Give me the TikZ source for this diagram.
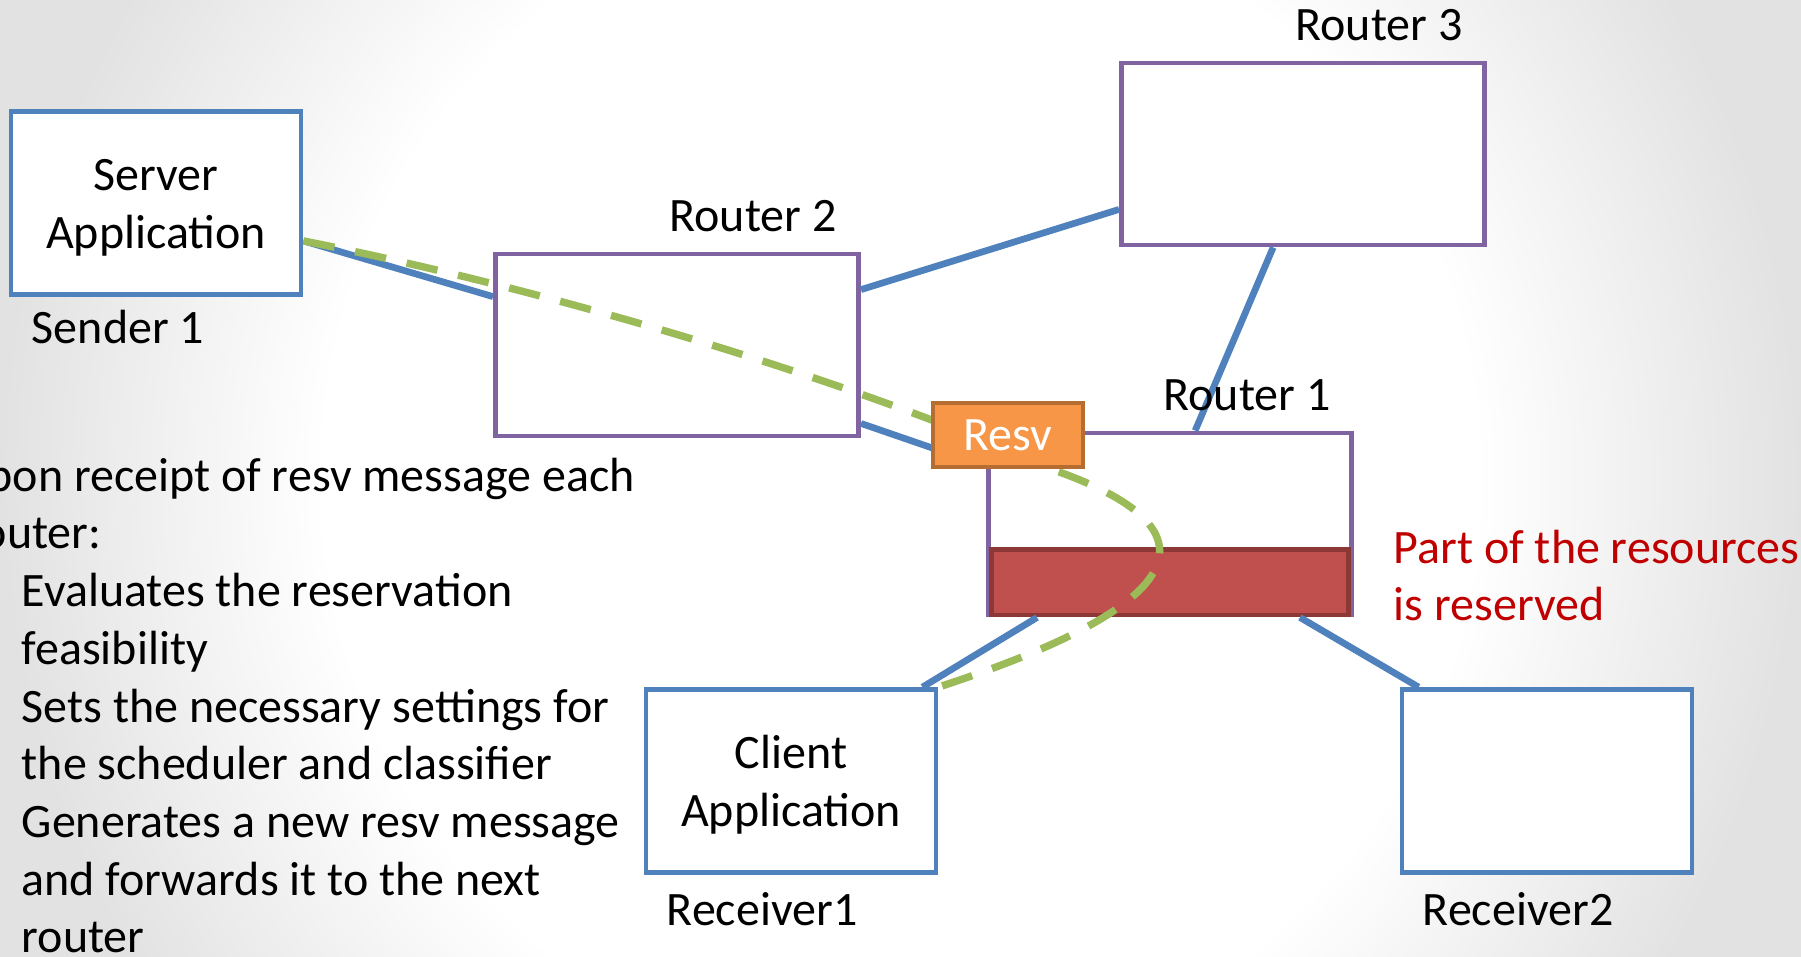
\documentclass[tikz,border=0pt]{standalone}
\usepackage{fontspec}
\setmainfont{Carlito}
\usepackage{xcolor}
\usetikzlibrary{positioning}
\definecolor{linkBlue}{RGB}{79,129,189}
\definecolor{routerPurple}{RGB}{128,100,162}
\definecolor{pathGreen}{RGB}{155,187,89}
\definecolor{resvOrange}{RGB}{247,150,70}
\definecolor{resvEdge}{RGB}{182,109,49}
\definecolor{barRed}{RGB}{192,80,77}
\definecolor{barEdge}{RGB}{140,56,54}
\definecolor{noteRed}{RGB}{192,0,0}
\definecolor{slideGray}{RGB}{226,226,226}
\pgfdeclareradialshading{slidebg}{\pgfpoint{0bp}{0bp}}{color(0bp)=(white); color(16bp)=(white); color(25bp)=(slideGray); color(50bp)=(slideGray)}
\newcommand{\slidefont}{\fontsize{13.65pt}{16.42pt}\selectfont}
\tikzset{
    hostbox/.style={
        rectangle,
        draw=linkBlue,
        line width=1.35pt,
        fill=white,
        align=center,
        text width=2.5cm,
        minimum width=2.9cm,
        minimum height=1.83cm,
        font=\slidefont,
        execute at begin node=\leavevmode\strut
    },
    routerbox/.style={
        rectangle,
        draw=routerPurple,
        line width=1.35pt,
        fill=white,
        minimum width=3.63cm,
        minimum height=1.82cm
    },
    resvbox/.style={
        rectangle,
        draw=resvEdge,
        line width=1.35pt,
        fill=resvOrange,
        text=white,
        minimum width=1.5cm,
        minimum height=0.64cm,
        font=\slidefont
    },
    resvbar/.style={
        rectangle,
        draw=barEdge,
        line width=1.4pt,
        fill=barRed,
        minimum width=3.57cm,
        minimum height=0.65cm
    },
    linkline/.style={draw=linkBlue, line width=1.9pt},
    pathdash/.style={draw=pathGreen, line width=2.1pt, dash pattern=on 9pt off 6pt},
    caption/.style={font=\slidefont, inner sep=0pt, anchor=base},
    bodytext/.style={font=\slidefont, align=left, text width=8cm, inner sep=0pt, anchor=base west,
        execute at begin node={\spaceskip=0pt\xspaceskip=0pt\relax}},
    note/.style={bodytext, text width=4.6cm, text=noteRed}
}

\begin{document}
\begin{tikzpicture}[x=0.01cm, y=-0.01cm]
    \useasboundingbox (0,0) rectangle (1801,956);
    \shade[shading=slidebg] (0,-450) rectangle (1801,1406);

    \node[hostbox] (server) at (156,203) {Server\\Application};
    \node[routerbox] (router2) at (677,345) {};
    \node[routerbox] (router3) at (1303,154) {};
    \node[routerbox] (router1) at (1170,524) {};
    \node[hostbox] (client) at (791,781) {Client\\Application};
    \node[hostbox] (receiver2) at (1547,781) {};
    \node[resvbar, above=0pt of router1.south] (resvBar) {};

    \draw[linkline] ([yshift=0.56cm]server.south east) -- ([yshift=-0.45cm]router2.north west);
    \draw[linkline] ([yshift=-0.38cm]router2.north east) -- ([yshift=0.38cm]router3.south west);
    \draw[linkline] ([xshift=1.54cm]router3.south west) -- ([xshift=2.09cm]router1.north west);
    \draw[linkline] ([yshift=0.15cm]router2.south east) -- ([xshift=-0.49cm, yshift=-0.19cm]router1.north west);
    \draw[linkline] ([xshift=0.51cm]router1.south west) -- ([xshift=-0.16cm]client.north east);
    \draw[linkline] ([xshift=-0.54cm]router1.south east) -- ([xshift=0.19cm]receiver2.north west);

    % path of the resv message
    \draw[pathdash] ([yshift=0.56cm]server.south east) .. controls (600,300) and (900,400) .. (1045,467)
        .. controls (1218,525) and (1205,600) .. (client.north east);

    \node[resvbox] (resv) at (1008,435) {Resv};

    \node[caption, above=0.19cm of router3, xshift=0.76cm] (router3Lbl) {Router 3};
    \node[caption, above=0.19cm of router2, xshift=0.76cm] (router2Lbl) {Router 2};
    \node[caption, above=0.19cm of router1, xshift=0.77cm] (router1Lbl) {Router 1};
    \node[caption] (senderLbl) at (118,343) {Sender 1};
    \node[caption] (receiver1Lbl) at (762,925) {Receiver1};
    \node[caption] (receiver2Lbl) at (1518,925) {Receiver2};

    \node[note] (reservedNote) at (1393,563) {Part of the resources\\is reserved};

    \node[bodytext] (steps) at (-44,491) {Upon receipt of resv message each\\
        Router:\\
        \hspace*{0.65cm}Evaluates the reservation\\
        \hspace*{0.65cm}feasibility\\
        \hspace*{0.65cm}Sets the necessary settings for\\
        \hspace*{0.65cm}the scheduler and classifier\\
        \hspace*{0.65cm}Generates a new resv message\\
        \hspace*{0.65cm}and forwards it to the next\\
        \hspace*{0.65cm}router};
\end{tikzpicture}
\end{document}
